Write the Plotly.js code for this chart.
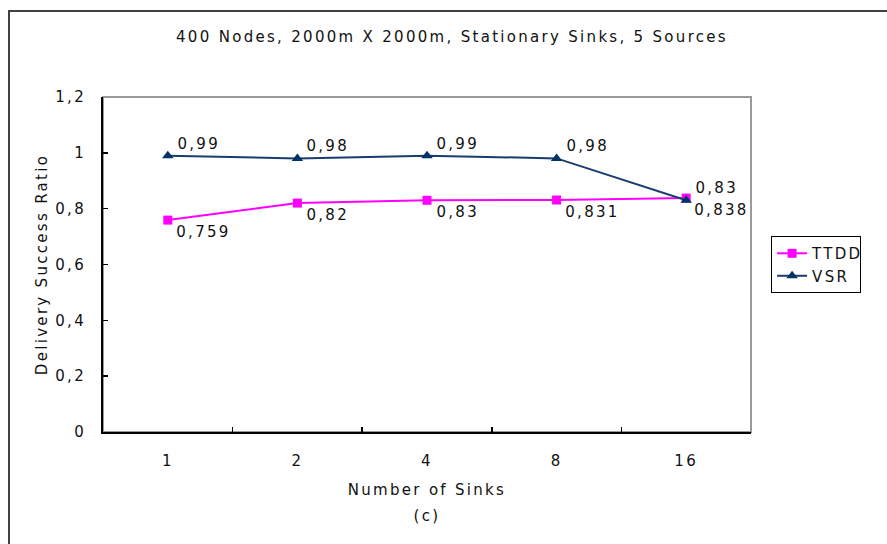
<!DOCTYPE html>
<html>
<head>
<meta charset="utf-8">
<script src="https://cdn.plot.ly/plotly-3.0.1.min.js"></script>
<style>
  html, body { margin: 0; padding: 0; overflow: hidden; background: #fff; }
  #chart { width: 887px; height: 544px; }
  #frame { position: absolute; left: 8px; top: 10px; width: 1000px; height: 700px;
           border: 2px solid #404040; pointer-events: none; }
  .main-svg text { letter-spacing: 2.3px; }
</style>
</head>
<body>
<div id="chart"></div>
<div id="frame"></div>
<script>
const categories = ['1', '2', '4', '8', '16'];
const ttddValues = [0.759, 0.82, 0.83, 0.831, 0.838];
const vsrValues = [0.99, 0.98, 0.99, 0.98, 0.83];
const ttddName = 'TTDD';
const vsrName = 'VSR';

const fmt = v => String(v).replace('.', ',');
const FONT = 'DejaVu Sans';

const traces = [
  {
    x: categories, y: ttddValues, name: ttddName, type: 'scatter', mode: 'lines+markers',
    line: { color: '#ff00ff', width: 2 },
    marker: { symbol: 'square', size: 9, color: '#ff00ff' },
    legendgroup: 'a'
  },
  {
    x: categories, y: vsrValues, name: vsrName, type: 'scatter', mode: 'lines+markers',
    line: { color: '#1a3d6e', width: 2 },
    marker: { symbol: 'triangle-up', size: 10, color: '#003366' },
    legendgroup: 'b'
  }
];

const annotations = [];
categories.forEach((c, i) => {
  annotations.push({ x: i, y: ttddValues[i], xref: 'x', yref: 'y', text: fmt(ttddValues[i]),
    showarrow: false, xanchor: 'left', yanchor: 'middle', xshift: 12, yshift: -12,
    font: { family: FONT, size: 15, color: '#111' } });
  annotations.push({ x: i, y: vsrValues[i], xref: 'x', yref: 'y', text: fmt(vsrValues[i]),
    showarrow: false, xanchor: 'left', yanchor: 'middle', xshift: 12, yshift: 12,
    font: { family: FONT, size: 15, color: '#111' } });
});
annotations.push({ x: 0.5, y: -0.251, xref: 'paper', yref: 'paper', text: '(c)', showarrow: false,
  xanchor: 'center', yanchor: 'middle', font: { family: FONT, size: 15, color: '#111' } });

const layout = {
  width: 887, height: 544,
  margin: { l: 103, r: 136, t: 97, b: 112 },
  paper_bgcolor: '#fff', plot_bgcolor: '#fff',
  separators: ',.',
  font: { family: FONT, size: 15, color: '#111' },
  title: { text: '400 Nodes, 2000m X 2000m, Stationary Sinks, 5 Sources',
    x: 452 / 887, xanchor: 'center', xref: 'container',
    y: 1 - 37 / 544, yanchor: 'middle', yref: 'container',
    font: { family: FONT, size: 15, color: '#111' } },
  xaxis: {
    type: 'category', categoryorder: 'array', categoryarray: categories,
    range: [-0.5, 4.5], showgrid: false, zeroline: false,
    showline: true, linecolor: '#000', linewidth: 2,
    ticks: 'inside', tickson: 'boundaries', ticklen: 5, tickcolor: '#000', tickwidth: 1.5,
    ticklabelstandoff: 14,
    title: { text: 'Number of Sinks', standoff: 15, font: { family: FONT, size: 15 } },
    automargin: false
  },
  yaxis: {
    range: [0, 1.2], dtick: 0.2, showgrid: false, zeroline: false,
    showline: true, linecolor: '#000', linewidth: 2,
    ticks: 'inside', ticklen: 5, tickcolor: '#000', tickwidth: 1.5,
    ticklabelstandoff: 12,
    title: { text: 'Delivery Success Ratio', standoff: 11, font: { family: FONT, size: 15 } },
    automargin: false
  },
  shapes: [{ type: 'rect', xref: 'paper', yref: 'paper', x0: 0, x1: 1, y0: 0, y1: 1,
    line: { color: '#9a9a9a', width: 2 }, layer: 'below' }],
  showlegend: true,
  legend: {
    x: 1.031, y: 0.585, xanchor: 'left', yanchor: 'top',
    bordercolor: '#000', borderwidth: 1, bgcolor: '#fff',
    tracegroupgap: 0,
    font: { family: FONT, size: 15, color: '#111' }
  },
  annotations: annotations
};

Plotly.newPlot('chart', traces, layout, { displayModeBar: false, staticPlot: true });
</script>
</body>
</html>
